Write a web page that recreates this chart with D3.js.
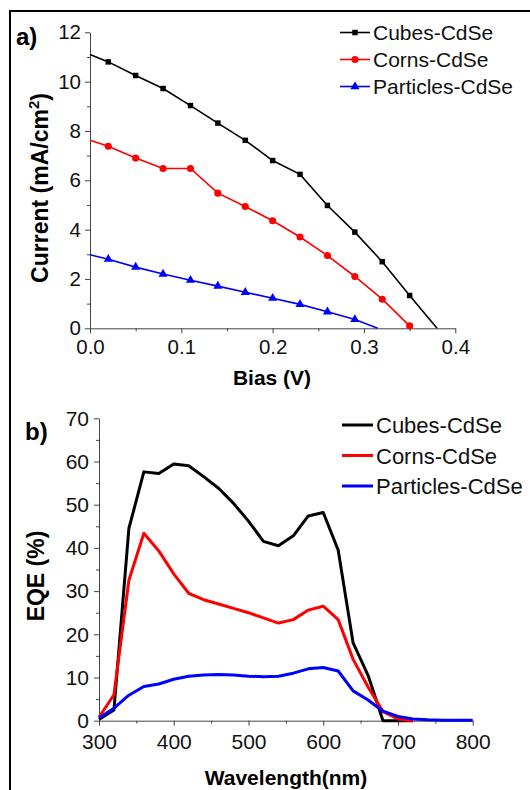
<!DOCTYPE html>
<html>
<head>
<meta charset="utf-8">
<script src="https://cdn.jsdelivr.net/npm/d3@7"></script>
<style>
  body { margin: 0; background: #fff; }
  svg { display: block; font-family: "Liberation Sans", Arial, sans-serif; }
  .axis path, .axis line { stroke: #444; stroke-width: 1; }
  .axis text { fill: #111; }
</style>
</head>
<body>
<div id="chart"></div>
<script>
// panel a: J-V curves
const biasV = [0, 0.02, 0.05, 0.08, 0.11, 0.14, 0.17, 0.20, 0.23, 0.26, 0.29, 0.32, 0.35, 0.38];
const cubesJ = [11.1, 10.8, 10.25, 9.72, 9.03, 8.32, 7.62, 6.8, 6.24, 4.98, 3.9, 2.7, 1.33, 0];
const cornsBias = [0, 0.02, 0.05, 0.08, 0.11, 0.14, 0.17, 0.20, 0.23, 0.26, 0.29, 0.32, 0.35];
const cornsJ = [7.62, 7.38, 6.9, 6.48, 6.48, 5.48, 4.94, 4.36, 3.7, 2.95, 2.1, 1.18, 0.1];
const particlesBias = [0, 0.02, 0.05, 0.08, 0.11, 0.14, 0.17, 0.20, 0.23, 0.26, 0.29, 0.315];
const particlesJ = [2.98, 2.8, 2.48, 2.2, 1.95, 1.71, 1.46, 1.22, 0.97, 0.67, 0.36, 0];
const ticksA_x = [0, 0.1, 0.2, 0.3, 0.4];
const ticksA_y = [0, 2, 4, 6, 8, 10, 12];

// panel b: EQE spectra
const wavelength = [300, 320, 340, 360, 380, 400, 420, 440, 460, 480, 500, 520, 540, 560, 580, 600, 620, 640, 660, 680, 700, 720, 740, 760, 780, 800];
const cubesEQE = [0.3, 2.5, 44.5, 57.6, 57.2, 59.4, 59.0, 56.5, 53.8, 50.3, 46.2, 41.5, 40.5, 42.8, 47.4, 48.2, 39.5, 18, 10.5, 0, 0, 0, null, null, null, null];
const cornsEQE = [0.8, 6, 32.5, 43.4, 39.3, 34, 29.5, 28, 27, 26, 25, 23.8, 22.6, 23.4, 25.6, 26.5, 23.4, 14.2, 7.8, 2.1, 0.4, 0, null, null, null, null];
const particlesEQE = [0.6, 2.9, 5.9, 7.9, 8.5, 9.6, 10.3, 10.6, 10.7, 10.6, 10.3, 10.2, 10.3, 11.0, 12.0, 12.3, 11.5, 6.9, 4.8, 2.2, 1.0, 0.4, 0.2, 0.1, 0.1, 0.1];
const ticksB_x = [300, 400, 500, 600, 700, 800];
const ticksB_y = [0, 10, 20, 30, 40, 50, 60, 70];

const seriesNames = ['Cubes-CdSe', 'Corns-CdSe', 'Particles-CdSe'];
const seriesColors = ['#000000', '#ff0000', '#0000ff'];

const W = 530, H = 790;
const svg = d3.select('#chart').append('svg').attr('width', W).attr('height', H);

// frame (left and top edges)
svg.append('path')
	.attr('d', 'M10,790 L10,11 L530,11')
	.attr('fill', 'none').attr('stroke', '#000').attr('stroke-width', 2);

// ---------- panel a ----------
const xA = d3.scaleLinear().domain([0, 0.4]).range([90, 455.3]);
const yA = d3.scaleLinear().domain([0, 12]).range([328.3, 32.3]);

function drawAxes(g, x, y, o) {
	// minor ticks first
	g.append('g').attr('class', 'axis')
		.attr('transform', 'translate(0,' + y.range()[0] + ')')
		.call(d3.axisBottom(x).tickValues(o.xMinor).tickSize(3).tickSizeOuter(0).tickFormat(''))
		.select('.domain').remove();
	g.append('g').attr('class', 'axis')
		.attr('transform', 'translate(' + x.range()[0] + ',0)')
		.call(d3.axisLeft(y).tickValues(o.yMinor).tickSize(3).tickSizeOuter(0).tickFormat(''))
		.select('.domain').remove();
	const xa = g.append('g').attr('class', 'axis')
		.attr('transform', 'translate(0,' + y.range()[0] + ')')
		.call(d3.axisBottom(x).tickValues(o.xTicks).tickSize(5).tickSizeOuter(0)
			.tickPadding(o.xPad).tickFormat(o.xFmt));
	xa.selectAll('text').attr('font-size', o.fs).attr('font-family', null);
	const ya = g.append('g').attr('class', 'axis')
		.attr('transform', 'translate(' + x.range()[0] + ',0)')
		.call(d3.axisLeft(y).tickValues(o.yTicks).tickSize(5).tickSizeOuter(0)
			.tickPadding(o.yPad).tickFormat(d3.format('d')));
	ya.selectAll('text').attr('font-size', o.fs).attr('font-family', null);
}

const gA = svg.append('g');
drawAxes(gA, xA, yA, {
	xTicks: ticksA_x, xMinor: [0.05, 0.15, 0.25, 0.35],
	yTicks: ticksA_y, yMinor: [1, 3, 5, 7, 9, 11],
	xFmt: d3.format('.1f'), xPad: 6, yPad: 4, fs: 20.5
});

const jvSets = [
	biasV.map((v, i) => [v, cubesJ[i]]),
	cornsBias.map((v, i) => [v, cornsJ[i]]),
	particlesBias.map((v, i) => [v, particlesJ[i]])
];
const lineA = d3.line().x(d => xA(d[0])).y(d => yA(d[1]));
const symbolTypes = [d3.symbolSquare, d3.symbolCircle, d3.symbolTriangle];
const symbolSizes = [30, 40, 36];

jvSets.forEach((pts, k) => {
	gA.append('path').datum(pts)
		.attr('d', lineA).attr('fill', 'none')
		.attr('stroke', seriesColors[k]).attr('stroke-width', 1.6);
	gA.selectAll('.m' + k)
		.data(pts.filter(d => d[0] > 0 && d[1] > 0))
		.enter().append('path')
		.attr('transform', d => 'translate(' + xA(d[0]) + ',' + yA(d[1]) + ')')
		.attr('d', d3.symbol().type(symbolTypes[k]).size(symbolSizes[k]))
		.attr('fill', seriesColors[k]);
});

// legend a
seriesNames.forEach((name, k) => {
	const cy = 32.5 + k * 27;
	const lg = gA.append('g');
	lg.append('line').attr('x1', 340).attr('x2', 370).attr('y1', cy).attr('y2', cy)
		.attr('stroke', seriesColors[k]).attr('stroke-width', 1.6);
	lg.append('path').attr('transform', 'translate(355,' + cy + ')')
		.attr('d', d3.symbol().type(symbolTypes[k]).size(symbolSizes[k]))
		.attr('fill', seriesColors[k]);
	lg.append('text').attr('x', 373).attr('y', cy + 7.5)
		.attr('font-size', 21).attr('fill', '#111').text(name);
});

gA.append('text').attr('x', 16).attr('y', 45)
	.attr('font-size', 24).attr('font-weight', 'bold').text('a)');
gA.append('text').attr('x', 272).attr('y', 385)
	.attr('text-anchor', 'middle').attr('font-size', 21).attr('font-weight', 'bold')
	.text('Bias (V)');
const ylabA = gA.append('text')
	.attr('transform', 'translate(48,188) rotate(-90)')
	.attr('text-anchor', 'middle').attr('font-size', 23).attr('font-weight', 'bold');
ylabA.append('tspan').text('Current (mA/cm');
ylabA.append('tspan').attr('dy', -9).attr('font-size', 15).text('2');
ylabA.append('tspan').attr('dy', 9).text(')');

// ---------- panel b ----------
const xB = d3.scaleLinear().domain([300, 800]).range([99, 472.7]);
const yB = d3.scaleLinear().domain([0, 70]).range([720.7, 418.3]);

const gB = svg.append('g');
drawAxes(gB, xB, yB, {
	xTicks: ticksB_x, xMinor: [350, 450, 550, 650, 750],
	yTicks: ticksB_y, yMinor: [5, 15, 25, 35, 45, 55, 65],
	xFmt: d3.format('d'), xPad: 8, yPad: 5, fs: 21
});

const eqeSets = [cubesEQE, cornsEQE, particlesEQE];
const lineB = d3.line()
	.defined(d => d[1] != null)
	.x(d => xB(d[0])).y(d => yB(d[1]));
eqeSets.forEach((vals, k) => {
	gB.append('path').datum(wavelength.map((w, i) => [w, vals[i]]))
		.attr('d', lineB).attr('fill', 'none')
		.attr('stroke', seriesColors[k]).attr('stroke-width', 3)
		.attr('stroke-linejoin', 'round');
});

// legend b
seriesNames.forEach((name, k) => {
	const cy = 425 + k * 30.5;
	gB.append('line').attr('x1', 342).attr('x2', 373).attr('y1', cy).attr('y2', cy)
		.attr('stroke', seriesColors[k]).attr('stroke-width', 3);
	gB.append('text').attr('x', 376).attr('y', cy + 8)
		.attr('font-size', 22).attr('fill', '#111').text(name);
});

gB.append('text').attr('x', 25).attr('y', 440)
	.attr('font-size', 24).attr('font-weight', 'bold').text('b)');
gB.append('text').attr('x', 286).attr('y', 785)
	.attr('text-anchor', 'middle').attr('font-size', 21).attr('font-weight', 'bold')
	.text('Wavelength(nm)');
gB.append('text')
	.attr('transform', 'translate(44,576) rotate(-90)')
	.attr('text-anchor', 'middle').attr('font-size', 23).attr('font-weight', 'bold')
	.text('EQE (%)');
</script>
</body>
</html>
